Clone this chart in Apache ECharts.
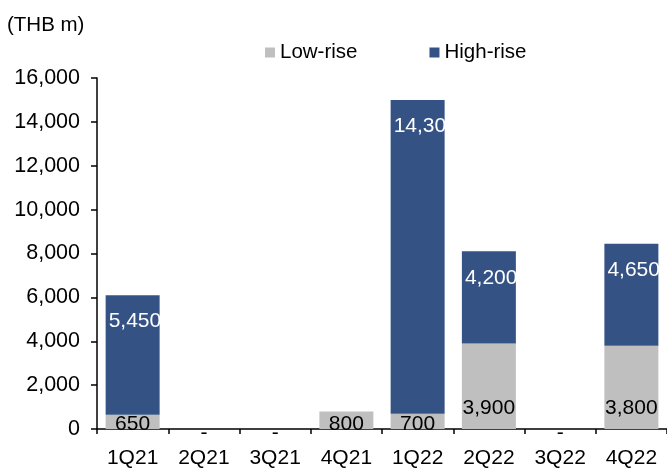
<!DOCTYPE html>
<html>
<head>
<meta charset="utf-8">
<script src="https://cdn.jsdelivr.net/npm/echarts@6/dist/echarts.min.js"></script>
<style>html,body{margin:0;padding:0;background:#fff}#c{width:667px;height:469px}</style>
</head>
<body>
<div id="c"></div>
<script>
var categories = ['1Q21','2Q21','3Q21','4Q21','1Q22','2Q22','3Q22','4Q22'];
var lowRise  = [650, 0, 0, 800, 700, 3900, 0, 3800];
var highRise = [5450, 0, 0, 0, 14300, 4200, 0, 4650];
var yTicks = [0, 2000, 4000, 6000, 8000, 10000, 12000, 14000, 16000];

var FONT = 'Liberation Sans, Arial, sans-serif';
function fmt(v){ return v.toLocaleString('en-US'); }

var lowData = lowRise.map(function(v){
  var lbl;
  if (v === 0) lbl = {position:'insideBottom', distance:-15};
  else if (v < 1000) lbl = {position:'insideBottom', distance:-6};
  else lbl = {position:'insideBottom', distance:10};
  return {value:v, label:lbl};
});
var highData = highRise.map(function(v){
  return {value:v, label:{show: v !== 0}};
});

var chart = echarts.init(document.getElementById('c'));
chart.setOption({
  animation:false,
  textStyle:{fontFamily:FONT},
  title:{text:'(THB m)', left:7, top:15, padding:0, textStyle:{fontSize:20.5, fontWeight:'normal', color:'#000', fontFamily:FONT}},
  legend:{
    left:265, top:42, padding:0, itemWidth:10, itemHeight:10, itemGap:72,
    icon:'rect', itemStyle:{borderWidth:0},
    textStyle:{fontSize:20.5, color:'#000', fontFamily:FONT, padding:[0,0,0,0]},
    data:['Low-rise','High-rise']
  },
  grid:{left:97, right:0, top:78, bottom:40, containLabel:false},
  xAxis:{
    type:'category', data:categories,
    axisLine:{lineStyle:{color:'#000', width:1.5}},
    axisTick:{show:true, length:5, lineStyle:{color:'#000', width:1.5}},
    axisLabel:{color:'#000', fontSize:21, margin:19, fontFamily:FONT}
  },
  yAxis:{
    type:'value', min:0, max:16000, interval:2000,
    axisLine:{show:true, lineStyle:{color:'#000', width:1.5}},
    axisTick:{show:true, length:6, lineStyle:{color:'#000', width:1.5}},
    splitLine:{show:false},
    axisLabel:{color:'#000', fontSize:21.5, margin:17, fontFamily:FONT,
      formatter:function(v){ return yTicks.indexOf(v) >= 0 ? fmt(v) : ''; }}
  },
  series:[
    {
      name:'Low-rise', type:'bar', stack:'t', barWidth:54,
      itemStyle:{color:'#BFBFBF'},
      label:{show:true, color:'#000', fontSize:21, fontFamily:FONT,
        formatter:function(p){ return p.value === 0 ? '-' : fmt(p.value); }},
      data:lowData
    },
    {
      name:'High-rise', type:'bar', stack:'t', barWidth:54,
      itemStyle:{color:'#345384'},
      label:{show:true, color:'#fff', fontSize:21, fontFamily:FONT,
        position:[3,16],
        formatter:function(p){ return fmt(p.value); }},
      data:highData
    }
  ]
});
</script>
</body>
</html>
